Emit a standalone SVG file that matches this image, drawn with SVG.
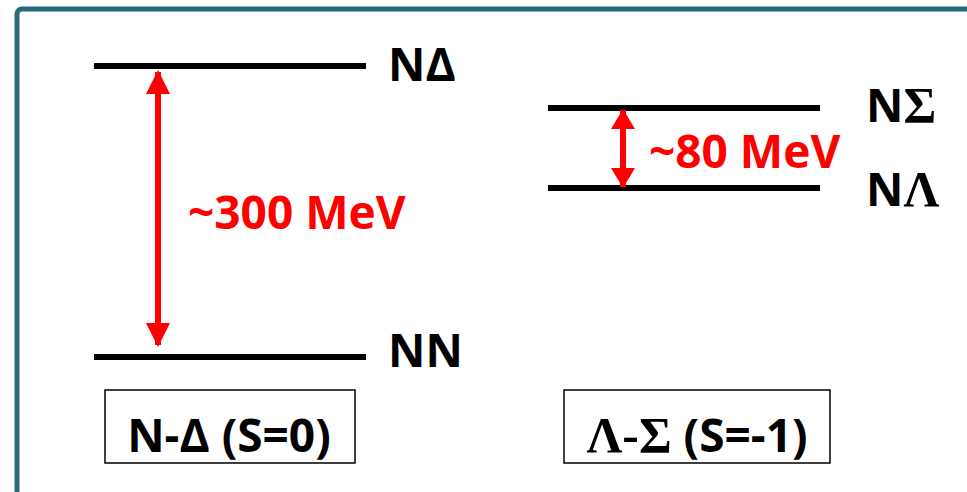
<svg xmlns="http://www.w3.org/2000/svg" width="967" height="492" viewBox="0 0 967 492">
<defs>
<style>
.lvl{stroke:#000;stroke-width:6}
.lab{font-family:"Open Sans","Liberation Sans",sans-serif;font-weight:bold;font-size:46px;fill:#000}
.gr{font-family:"Liberation Serif","DejaVu Serif",serif;font-weight:bold;font-size:50px}
.red{font-family:"Open Sans","Liberation Sans",sans-serif;font-weight:bold;font-size:46px;fill:#ff0000}
.arr{stroke:#ff0000;stroke-width:6}
.box{fill:#fff;stroke:#000;stroke-width:1.5}
</style>
<marker id="ah" viewBox="0 0 24 24" refX="22" refY="12" markerWidth="24" markerHeight="24" markerUnits="userSpaceOnUse" orient="auto-start-reverse">
<path d="M0,0 L24,12 L0,24 Z" fill="#ff0000"/>
</marker>
<marker id="ah2" viewBox="0 0 20 24" refX="19" refY="12" markerWidth="20" markerHeight="24" markerUnits="userSpaceOnUse" orient="auto-start-reverse">
<path d="M0,0 L20,12 L0,24 Z" fill="#ff0000"/>
</marker>
</defs>
<rect width="967" height="492" fill="#fff"/>
<rect id="frame" x="17" y="9" width="980" height="500" rx="5" fill="none" stroke="#266a78" stroke-width="5"/>
<g id="levels">
<g id="nd"><line class="lvl" x1="94" y1="66" x2="366" y2="66"/><text class="lab" x="388" y="81">NΔ</text></g>
<g id="nn"><line class="lvl" x1="94" y1="357" x2="366" y2="357"/><text class="lab" x="388" y="367">NN</text></g>
<g id="ns"><line class="lvl" x1="548" y1="108" x2="820" y2="108"/><text class="lab" x="866" y="122">N<tspan class="gr">Σ</tspan></text></g>
<g id="nl"><line class="lvl" x1="548" y1="188" x2="820" y2="188"/><text class="lab" x="866" y="206">N<tspan class="gr">Λ</tspan></text></g>
</g>
<g id="connectors">
<line class="arr" x1="158" y1="72" x2="158" y2="345" marker-start="url(#ah)" marker-end="url(#ah)"/>
<line class="arr" x1="623" y1="110" x2="623" y2="187" marker-start="url(#ah2)" marker-end="url(#ah2)"/>
</g>
<text class="red" x="188" y="229">~300 MeV</text>
<text class="red" x="649" y="168">~80 MeV</text>
<g id="box1"><rect class="box" x="105" y="390" width="250" height="73"/><text class="lab" x="229" y="452" text-anchor="middle">N-Δ (S=0)</text></g>
<g id="box2"><rect class="box" x="564" y="390" width="266" height="73"/><text class="lab" x="697" y="452" text-anchor="middle"><tspan class="gr">Λ-Σ</tspan> (S=-1)</text></g>
</svg>
